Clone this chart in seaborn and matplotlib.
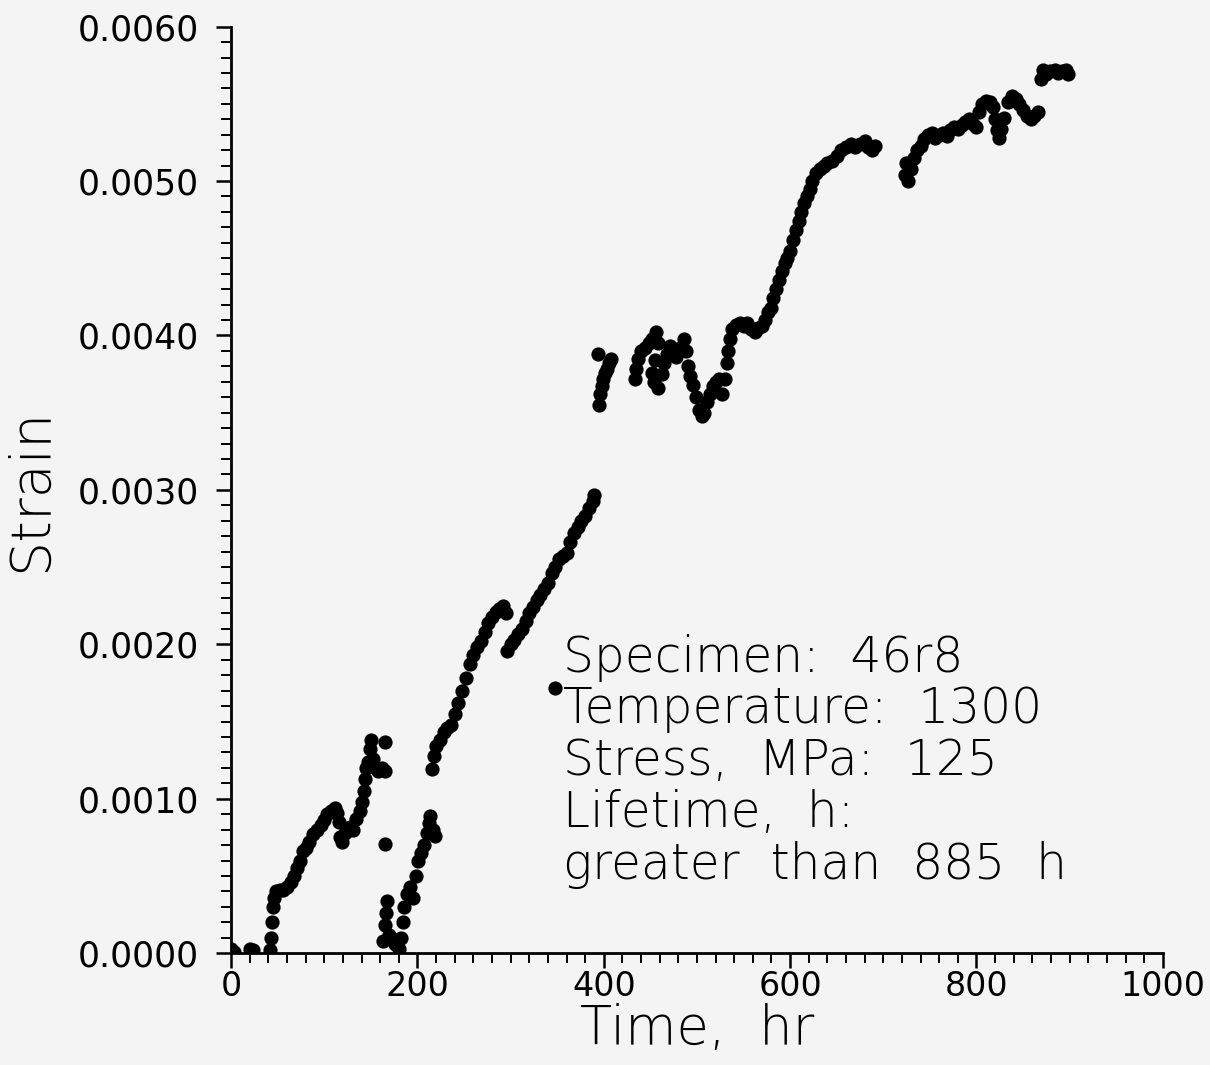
import numpy as np
import pandas as pd
import seaborn as sns
import matplotlib.pyplot as plt
from matplotlib.ticker import MultipleLocator, FormatStrFormatter

# creep curve, split into the visible runs
t_a = [0, 3, 20, 24]
s_a = [0.00003, 0.00001, 0.00003, 0.00002]

t_b = [42, 43, 44, 45, 46, 48, 52, 56, 60, 64, 68, 71, 74, 77, 80, 84, 88, 92, 96, 100,
       103, 107, 111, 114, 116, 117, 119, 122, 125, 128, 131, 134, 138, 141, 143, 144,
       145, 147, 149, 150, 152, 155, 158, 162, 165, 165, 165]
s_b = [0.00002, 0.0001, 0.0002, 0.0003, 0.00036, 0.0004, 0.00041, 0.00041, 0.00043,
       0.00046, 0.0005, 0.00055, 0.0006, 0.00066, 0.00068, 0.00072, 0.00077, 0.0008,
       0.00083, 0.00086, 0.0009, 0.00092, 0.00094, 0.00091, 0.00085, 0.00075, 0.00072,
       0.00078, 0.0008, 0.00082, 0.0008, 0.00087, 0.00092, 0.00098, 0.00105, 0.00113,
       0.0012, 0.00124, 0.00132, 0.00138, 0.00126, 0.0012, 0.00118, 0.0012, 0.00118,
       0.00137, 0.00071]

t_c = [163, 165, 166, 167, 169, 172, 176, 180, 182, 184, 186, 189, 192, 195, 198, 201,
       204, 207, 210, 212, 214, 217, 219]
s_c = [0.00008, 0.00018, 0.00026, 0.00034, 0.00012, 0.0001, 0.00006, 0.00003, 0.0001,
       0.0002, 0.0003, 0.00038, 0.00043, 0.00036, 0.0005, 0.0006, 0.00065, 0.0007,
       0.00078, 0.00084, 0.00089, 0.0008, 0.00076]

t_d = [216, 218, 220, 224, 228, 232, 236, 240, 244, 248, 252, 256, 260, 264, 268, 272,
       276, 280, 284, 288, 292, 295]
s_d = [0.00119, 0.00128, 0.00134, 0.00138, 0.00143, 0.00146, 0.00148, 0.00155, 0.00162,
       0.0017, 0.00178, 0.00187, 0.00193, 0.00198, 0.00202, 0.00208, 0.00214, 0.00218,
       0.00221, 0.00223, 0.00225, 0.0022]

t_e = [296, 300, 304, 308, 312, 316, 320, 324, 328, 332, 336, 340, 344, 348, 352, 356,
       360, 364, 368, 372, 376, 380, 384, 388, 390, 348]
s_e = [0.00196, 0.002, 0.00203, 0.00207, 0.0021, 0.00215, 0.0022, 0.00224, 0.00229,
       0.00232, 0.00236, 0.0024, 0.00246, 0.0025, 0.00255, 0.00257, 0.00259, 0.00266,
       0.00272, 0.00276, 0.0028, 0.00283, 0.00288, 0.00293, 0.00297, 0.00172]

t_f = [394, 395, 396, 398, 399, 401, 403, 406, 408]
s_f = [0.00388, 0.00355, 0.00362, 0.00367, 0.00372, 0.00376, 0.00378, 0.00382, 0.00385]

t_g = [433, 435, 437, 440, 444, 448, 452, 456, 458, 455, 452, 454, 458, 462, 465, 468,
       471, 475, 478, 482, 486, 488, 490, 493, 496, 499, 502, 505, 508, 511, 514, 517,
       520, 524, 527, 530, 532, 533, 535, 538, 542, 546, 550, 554, 558, 562, 566, 570,
       573, 576]
s_g = [0.00372, 0.00378, 0.00385, 0.0039, 0.00392, 0.00395, 0.00398, 0.00402, 0.00395,
       0.00384, 0.00376, 0.0037, 0.00366, 0.00375, 0.00382, 0.00388, 0.00393, 0.00388,
       0.00386, 0.00392, 0.00398, 0.0039, 0.0038, 0.00374, 0.00368, 0.0036, 0.00352,
       0.00348, 0.0035, 0.00357, 0.00362, 0.00367, 0.0037, 0.00372, 0.00362, 0.00372,
       0.00382, 0.0039, 0.00398, 0.00404, 0.00407, 0.00408, 0.00406, 0.00408, 0.00404,
       0.00402, 0.00405, 0.00406, 0.0041, 0.00415]

t_h = [579, 582, 585, 588, 591, 594, 597, 600, 603, 606, 609, 612, 615, 618, 621, 624,
       628, 632, 636, 640, 645, 650, 655, 660, 665, 670, 675, 680, 684, 688, 691]
s_h = [0.00418, 0.00424, 0.0043, 0.00436, 0.00442, 0.00447, 0.0045, 0.00455, 0.00462,
       0.00468, 0.00474, 0.0048, 0.00486, 0.0049, 0.00495, 0.005, 0.00505, 0.00508,
       0.0051, 0.00512, 0.00513, 0.00516, 0.0052, 0.00522, 0.00524, 0.00522, 0.00524,
       0.00526, 0.00522, 0.0052, 0.00523]

t_i = [723, 724, 727, 730, 733, 736, 740, 744, 748, 752, 756, 760, 764, 768, 772, 776,
       780, 784, 788, 792, 796, 800, 803, 806, 810, 814, 818, 820, 822, 824, 826, 830,
       834, 838, 842, 846, 850, 854, 858, 862, 866, 869, 871, 875, 879, 884, 888, 892,
       896, 898]
s_i = [0.00504, 0.00512, 0.005, 0.00508, 0.00515, 0.0052, 0.00523, 0.00527, 0.0053,
       0.00531, 0.00528, 0.0053, 0.00531, 0.00529, 0.00533, 0.00535, 0.00534, 0.00536,
       0.00538, 0.0054, 0.00537, 0.00535, 0.00545, 0.0055, 0.00552, 0.00551, 0.00548,
       0.0054, 0.00533, 0.00528, 0.00534, 0.00541, 0.00551, 0.00555, 0.00553, 0.0055,
       0.00546, 0.00542, 0.0054, 0.00542, 0.00545, 0.00566, 0.00572, 0.00569, 0.00571,
       0.00572, 0.0057, 0.00571, 0.00572, 0.00569]

info_lines = ["Specimen:  46r8", "Temperature:  1300", "Stress,  MPa:  125",
              "Lifetime,  h:", "greater  than  885  h"]

df = pd.DataFrame({
    "time": t_a + t_b + t_c + t_d + t_e + t_f + t_g + t_h + t_i,
    "strain": s_a + s_b + s_c + s_d + s_e + s_f + s_g + s_h + s_i,
})

sns.set_style("ticks")
bg = "#f4f4f4"
plt.rcParams["text.color"] = "black"
plt.rcParams["axes.labelcolor"] = "black"
plt.rcParams["xtick.color"] = "black"
plt.rcParams["ytick.color"] = "black"

fig = plt.figure(figsize=(12.1, 10.65), dpi=100, facecolor=bg)
ax = fig.add_axes([0.191, 0.105, 0.770, 0.870], facecolor=bg)

sns.scatterplot(data=df, x="time", y="strain", ax=ax, color="black", s=105,
                linewidth=0, legend=False)

ax.set_xlim(0, 1000)
ax.set_ylim(0, 0.006)
ax.xaxis.set_major_locator(MultipleLocator(200))
ax.xaxis.set_minor_locator(MultipleLocator(20))
ax.yaxis.set_major_locator(MultipleLocator(0.001))
ax.yaxis.set_minor_locator(MultipleLocator(0.0001))
ax.yaxis.set_major_formatter(FormatStrFormatter("%.4f"))

for side in ["top", "right"]:
    ax.spines[side].set_visible(False)
ax.spines["left"].set_linewidth(2)
ax.spines["bottom"].set_linewidth(2)
ax.spines["left"].set_color("black")
ax.spines["bottom"].set_color("black")
ax.tick_params(which="major", length=11, width=1.8)
ax.tick_params(which="minor", length=7, width=1.4)
ax.tick_params(axis="y", which="major", labelsize=25, pad=12)
ax.tick_params(axis="x", which="major", labelsize=24, pad=1)

ax.set_xlabel("Time,  hr", fontsize=38, fontweight="light", labelpad=0)
ax.set_ylabel("Strain", fontsize=40, fontweight="light", labelpad=14)

ax.text(356, 0.00207, "\n".join(info_lines), fontsize=35, fontweight="light",
        va="top", ha="left", linespacing=1.1)

fig.savefig("out.png", dpi=100, facecolor=bg)
